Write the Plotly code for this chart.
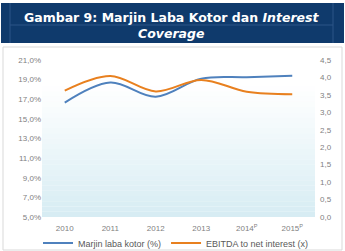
import plotly.graph_objects as go

years = ["2010", "2011", "2012", "2013", "2014<sup>P</sup>", "2015<sup>P</sup>"]
gross_margin = [16.65, 18.7, 17.25, 19.1, 19.25, 19.4]
ebitda_cov = [3.62, 4.04, 3.6, 3.93, 3.59, 3.52]

left_ticks = [5, 7, 9, 11, 13, 15, 17, 19, 21]
left_labels = ["5,0%", "7,0%", "9,0%", "11,0%", "13,0%", "15,0%", "17,0%", "19,0%", "21,0%"]
right_ticks = [0, 0.5, 1, 1.5, 2, 2.5, 3, 3.5, 4, 4.5]
right_labels = ["0,0", "0,5", "1,0", "1,5", "2,0", "2,5", "3,0", "3,5", "4,0", "4,5"]

W, H = 345, 251
ML, MR, MT, MB = 42, 30, 60, 34
pw, ph = W - ML - MR, H - MT - MB

def px(x):
    return (x - ML) / pw

def py(y):
    return (H - MB - y) / ph

fig = go.Figure()
fig.add_trace(go.Scatter(x=years, y=gross_margin, name="Marjin laba kotor (%)",
                         mode="lines", line=dict(color="#4F81BD", width=2, shape="spline"),
                         yaxis="y"))
fig.add_trace(go.Scatter(x=years, y=ebitda_cov, name="EBITDA to net interest (x)",
                         mode="lines", line=dict(color="#E8801F", width=2, shape="spline"),
                         yaxis="y2"))

shapes = []
# gradient plot background
n = 30
for i in range(n):
    y0 = i / n
    y1 = (i + 1) / n
    t = 1 - (i + 0.5) / n  # 1 at bottom
    a = max(0.0, min(1.0, (t - 0.15) / 0.85)) ** 1.1
    shapes.append(dict(type="rect", xref="paper", yref="paper", x0=0, x1=1, y0=y0, y1=y1,
                       fillcolor=f"rgba(214,236,243,{a:.3f})", line=dict(width=0), layer="below"))
# chart frame
shapes.append(dict(type="rect", xref="paper", yref="paper", x0=px(3), x1=px(342), y0=py(250), y1=py(47),
                   line=dict(color="#D9D9D9", width=1), layer="below"))
# title box
shapes.append(dict(type="rect", xref="paper", yref="paper", x0=px(1), x1=px(344), y0=py(43), y1=py(3),
                   fillcolor="#0F3A6C", line=dict(width=0), layer="below"))
shapes.append(dict(type="line", xref="paper", yref="paper", x0=px(10), x1=px(10), y0=py(43), y1=py(3),
                   line=dict(color="#2C5587", width=1)))
shapes.append(dict(type="line", xref="paper", yref="paper", x0=px(333), x1=px(333), y0=py(43), y1=py(3),
                   line=dict(color="#2C5587", width=1)))
shapes.append(dict(type="line", xref="paper", yref="paper", x0=px(10), x1=px(333), y0=py(25), y1=py(25),
                   line=dict(color="#2C5587", width=1)))

annotations = [
    dict(text="<b>Gambar 9: Marjin Laba Kotor dan <i>Interest</i></b><br><b><i>Coverage</i></b>",
         xref="paper", yref="paper", x=px(172), y=py(25), xanchor="center", yanchor="middle",
         showarrow=False, font=dict(family="DejaVu Sans", size=12.5, color="white"),
         align="center"),
]

tickfont = dict(family="Liberation Sans Narrow, Liberation Sans", size=8, color="#7F7F7F")

fig.update_layout(
    width=W, height=H,
    margin=dict(l=ML, r=MR, t=MT, b=MB, autoexpand=False),
    paper_bgcolor="white", plot_bgcolor="rgba(0,0,0,0)",
    showlegend=True,
    legend=dict(orientation="h", x=px(176), xanchor="center", y=py(243), yanchor="middle",
                font=dict(family="Liberation Sans Narrow, Liberation Sans", size=9, color="#595959"),
                itemwidth=30, tracegroupgap=0, bgcolor="rgba(0,0,0,0)"),
    xaxis=dict(type="category", range=[-0.5, 5.5], showgrid=False, zeroline=False, showline=False,
               tickfont=tickfont, ticks="", ticklabelstandoff=5),
    yaxis=dict(range=[5, 21], tickvals=left_ticks, ticktext=left_labels,
               showgrid=False, zeroline=False, showline=False, tickfont=tickfont, ticks=""),
    yaxis2=dict(range=[0, 4.5], tickvals=right_ticks, ticktext=right_labels, overlaying="y", side="right",
                showgrid=False, zeroline=False, showline=False, tickfont=tickfont, ticks="",
                ticklabelstandoff=4),
    shapes=shapes,
    annotations=annotations,
)

fig.write_html("out.html")
